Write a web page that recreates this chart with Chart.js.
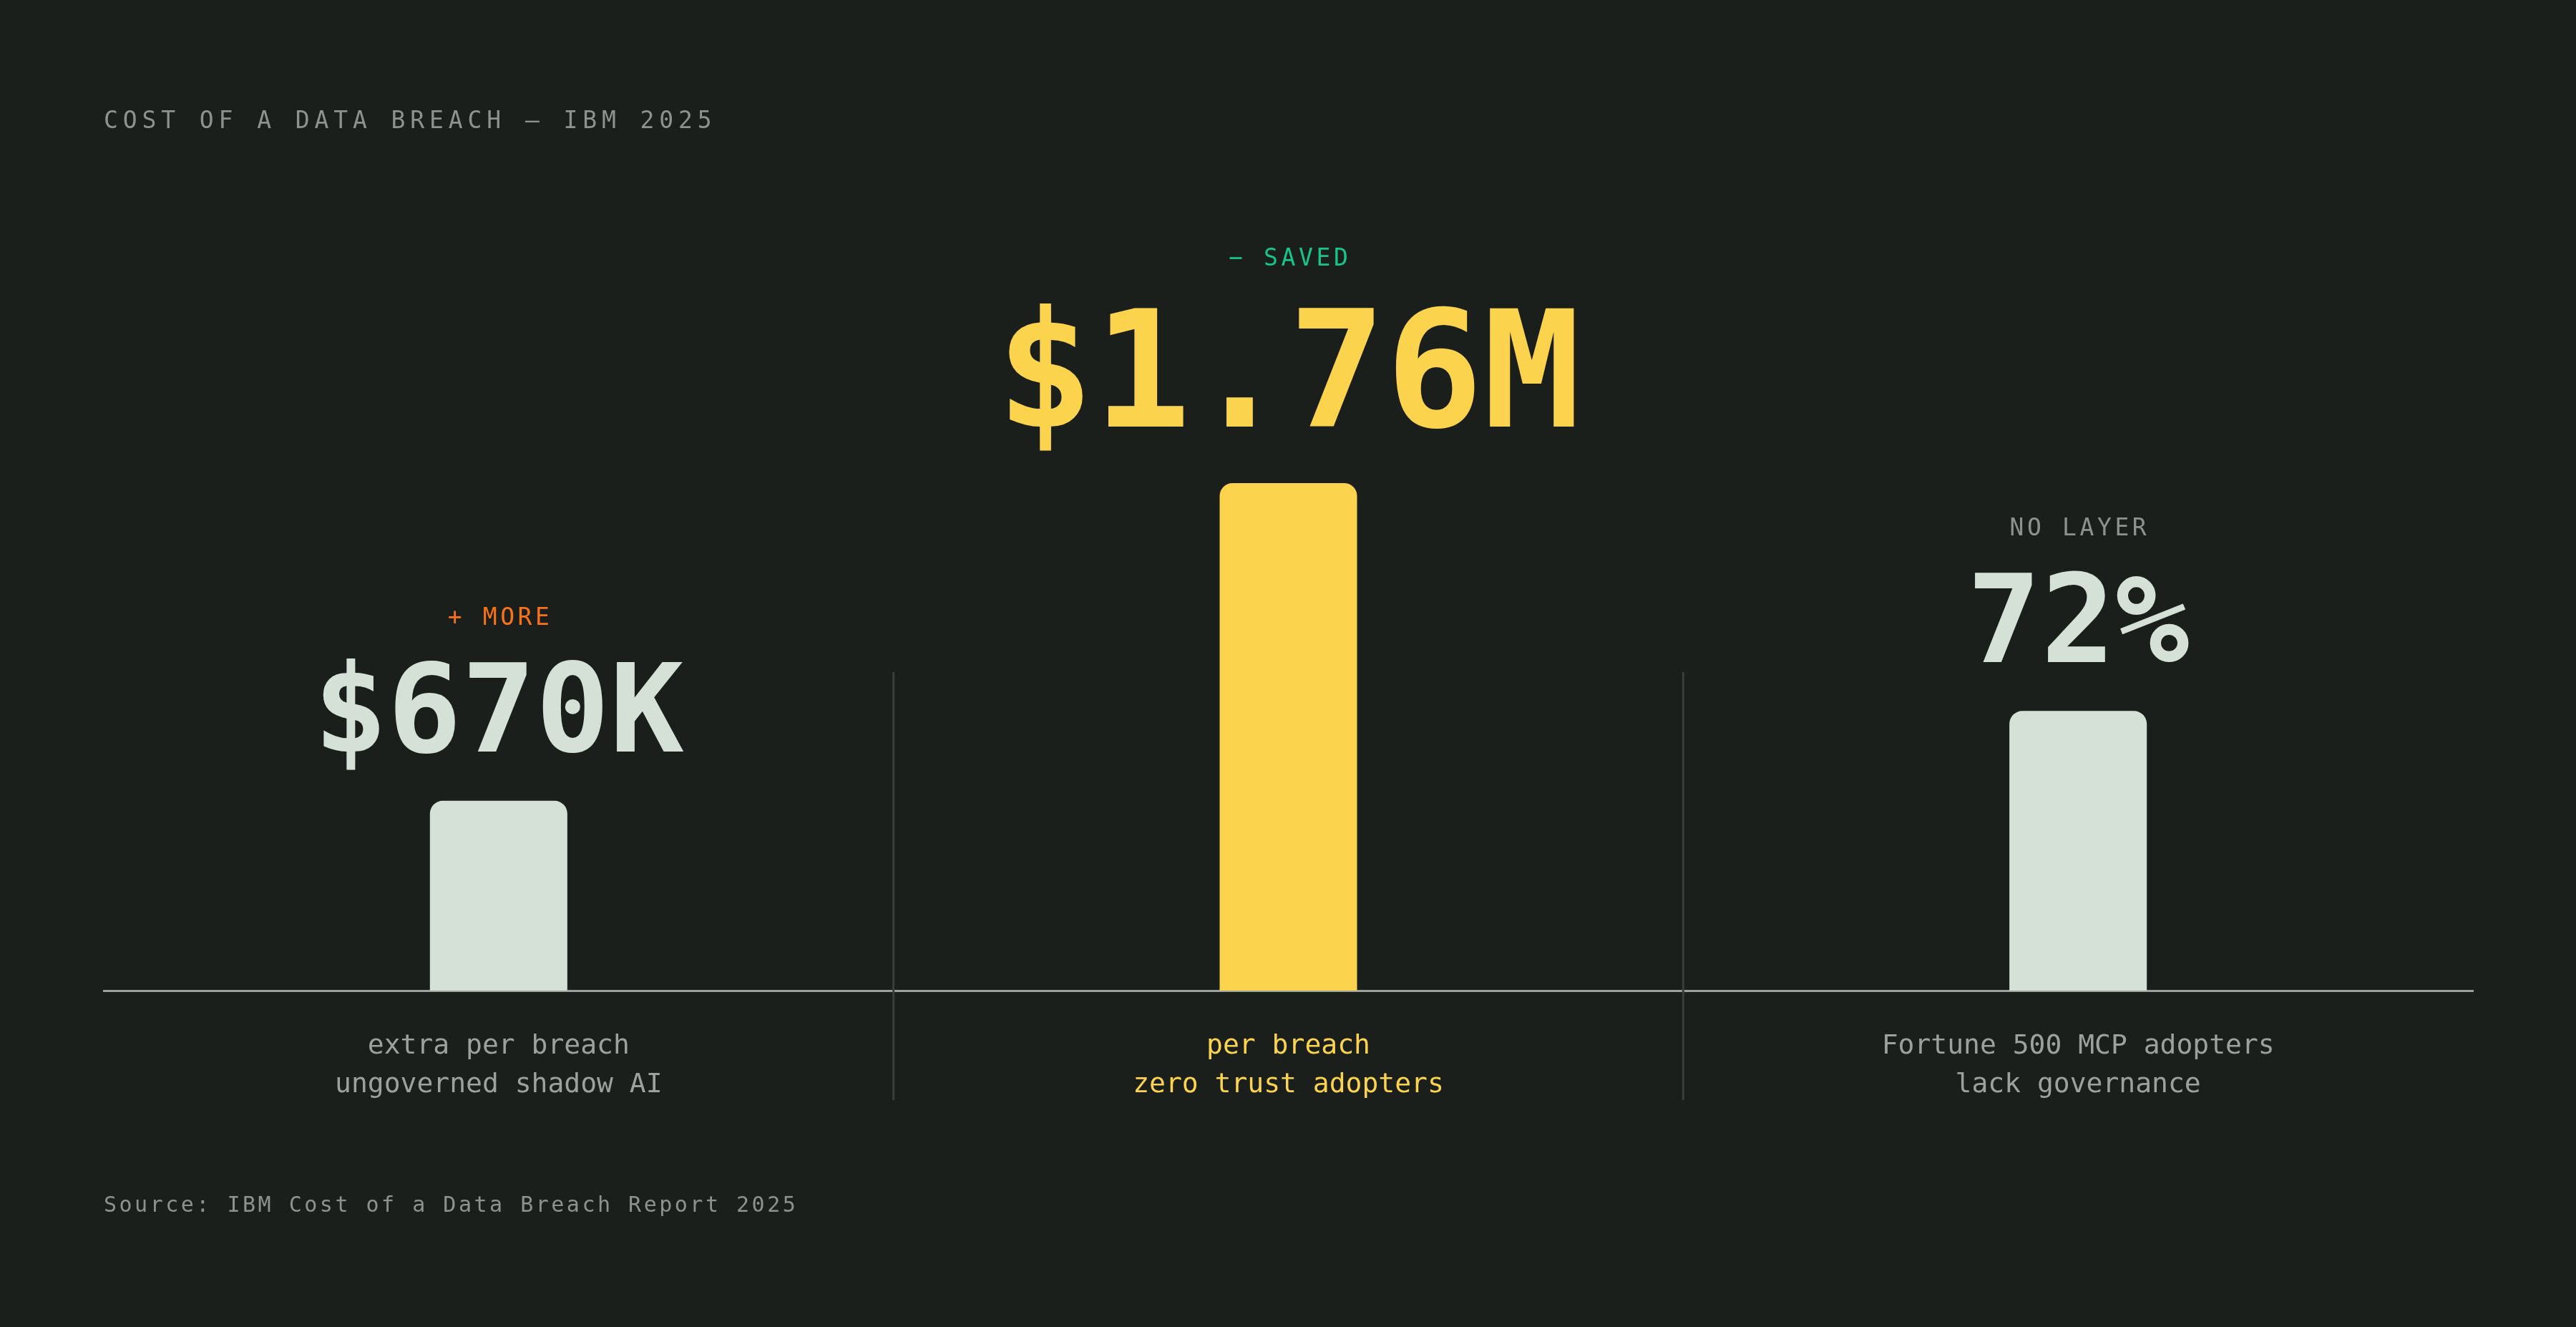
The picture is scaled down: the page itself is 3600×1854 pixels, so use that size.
<!DOCTYPE html>
<html>
<head>
<meta charset="utf-8">
<script src="https://cdn.jsdelivr.net/npm/chart.js@4.4.1/dist/chart.umd.min.js"></script>
<style>
  html, body { margin:0; padding:0; background:#1b1f1c; width:3600px; height:1854px; overflow:hidden; }
  #wrap { position:absolute; left:0; top:0; width:3600px; height:1854px; }
  .t { position:absolute; font-family:"DejaVu Sans Mono", monospace; white-space:nowrap; line-height:1; color:#8b938c; }
  #title { left:145px; top:151px; font-size:33px; letter-spacing:6.9px; }
  #source { left:145px; top:1668px; font-size:30px; letter-spacing:3.5px; }
</style>
</head>
<body>
<div id="wrap"><canvas id="c"></canvas></div>
<div class="t" id="title"></div>
<div class="t" id="source"></div>
<script>
// ---------- data ----------
const chartTitle = "COST OF A DATA BREACH — IBM 2025";
const sourceNote = "Source: IBM Cost of a Data Breach Report 2025";
const categoryLines = [
  ["extra per breach", "ungoverned shadow AI"],
  ["per breach", "zero trust adopters"],
  ["Fortune 500 MCP adopters", "lack governance"]
];
const valueLabels = ["$670K", "$1.76M", "72%"];
const tagLabels = ["+ MORE", "− SAVED", "NO LAYER"];
const barHeights = [37.4, 100, 55.1];   // bar height, % of tallest bar
const highlighted = [false, true, false];

// ---------- styles ----------
const BG = "#1b1f1c";
const LIGHT = "#d5e0d7";
const YELLOW = "#fcd34d";
const MUTED = "#8b938c";
const LABEL_MUTED = "#9aa29b";
const tagColors = ["#f97316", "#17c58a", MUTED];
const FONT = '"DejaVu Sans Mono", monospace';

document.getElementById("title").textContent = chartTitle;
document.getElementById("source").textContent = sourceNote;

const annotate = {
  id: "annotate",
  afterDraw(chart) {
    const { ctx, chartArea, scales: { x } } = chart;
    const meta = chart.getDatasetMeta(0);
    ctx.save();
    // column dividers
    ctx.strokeStyle = "#393e3a";
    ctx.lineWidth = 3;
    for (let i = 0; i < categoryLines.length - 1; i++) {
      const xm = (x.getPixelForValue(i) + x.getPixelForValue(i + 1)) / 2;
      ctx.beginPath();
      ctx.moveTo(xm, chartArea.bottom - 445);
      ctx.lineTo(xm, chartArea.bottom + 153);
      ctx.stroke();
    }
    ctx.textAlign = "center";
    ctx.textBaseline = "alphabetic";
    meta.data.forEach((bar, i) => {
      const big = highlighted[i];
      const fs = big ? 226 : 172;
      const vy = bar.y - (36 + 0.19 * fs);
      ctx.letterSpacing = "0px";
      ctx.font = `bold ${fs}px ${FONT}`;
      ctx.fillStyle = big ? YELLOW : LIGHT;
      ctx.fillText(valueLabels[i], bar.x, vy);

      ctx.letterSpacing = "4.6px";
      ctx.font = `33px ${FONT}`;
      ctx.fillStyle = tagColors[i];
      ctx.fillText(tagLabels[i], bar.x + 2.3, vy - (22 + 0.9 * fs));

      ctx.letterSpacing = "0px";
      ctx.font = `38px ${FONT}`;
      ctx.fillStyle = big ? YELLOW : LABEL_MUTED;
      categoryLines[i].forEach((ln, j) => {
        ctx.fillText(ln, x.getPixelForValue(i), chartArea.bottom + 88 + j * 54);
      });
    });
    ctx.restore();
  }
};

new Chart(document.getElementById("c"), {
  type: "bar",
  data: {
    labels: categoryLines.map(l => l.join(" ")),
    datasets: [{
      data: barHeights,
      backgroundColor: highlighted.map(h => h ? YELLOW : LIGHT),
      borderWidth: 0,
      borderRadius: 18,
      borderSkipped: "start",
      barPercentage: 0.174,
      categoryPercentage: 1
    }]
  },
  options: {
    responsive: true,
    maintainAspectRatio: false,
    devicePixelRatio: 1,
    animation: false,
    layout: { padding: { top: 675, bottom: 470, left: 145, right: 144 } },
    plugins: { legend: { display: false }, tooltip: { enabled: false }, title: { display: false } },
    scales: {
      x: {
        type: "category",
        offset: true,
        z: 1,
        grid: { display: false, drawTicks: false },
        ticks: { display: false },
        border: { display: true, color: "#9aa29b", width: 3 }
      },
      y: {
        display: false,
        min: 0,
        max: 100
      }
    }
  },
  plugins: [annotate]
});
</script>
</body>
</html>
